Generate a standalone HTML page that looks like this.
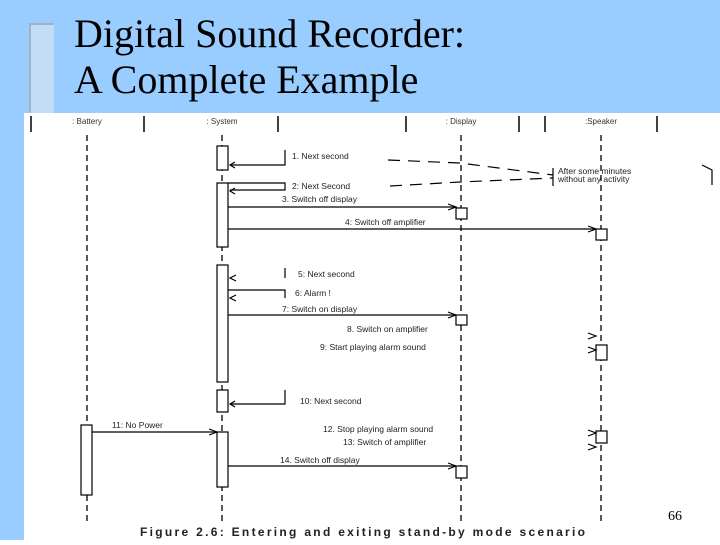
<!DOCTYPE html>
<html><head><style>
body{margin:0;width:720px;height:540px;overflow:hidden;background:#fff}
</style></head><body>
<svg width="720" height="540" xmlns="http://www.w3.org/2000/svg" font-family="Liberation Sans, sans-serif">
<rect x="0" y="0" width="720" height="540" fill="#fff"/>
<rect x="0" y="0" width="720" height="113" fill="#99ccff"/>
<rect x="0" y="0" width="24" height="540" fill="#99ccff"/>
<rect x="30" y="24" width="24" height="89" fill="#c2dcf4"/>
<path d="M30 113 V24 H54" fill="none" stroke="#9fb3c8" stroke-width="2"/>
<text x="74" y="47" font-family="Liberation Serif, serif" font-size="40" fill="#000">Digital Sound Recorder:</text>
<text x="74" y="93" font-family="Liberation Serif, serif" font-size="40" fill="#000">A Complete Example</text>
<g stroke="#000" stroke-width="1.5">
<line x1="31" y1="116" x2="31" y2="132"/><line x1="144" y1="116" x2="144" y2="132"/>
<line x1="278" y1="116" x2="278" y2="132"/><line x1="406" y1="116" x2="406" y2="132"/>
<line x1="519" y1="116" x2="519" y2="132"/><line x1="545" y1="116" x2="545" y2="132"/>
<line x1="657" y1="116" x2="657" y2="132"/>
</g>
<g font-size="8" fill="#333" text-anchor="middle">
<text x="87" y="124">: Battery</text><text x="222" y="124">: System</text>
<text x="461" y="124">: Display</text><text x="601" y="124">:Speaker</text>
</g>
<g stroke="#000" stroke-width="1.3" stroke-dasharray="6,4">
<line x1="87" y1="135" x2="87" y2="525"/><line x1="222" y1="135" x2="222" y2="525"/>
<line x1="461" y1="135" x2="461" y2="525"/><line x1="601" y1="135" x2="601" y2="525"/>
</g>
<g fill="#fff" stroke="#000" stroke-width="1.2">
<rect x="217" y="146" width="11" height="24"/><rect x="217" y="183" width="11" height="64"/>
<rect x="217" y="265" width="11" height="117"/><rect x="217" y="390" width="11" height="22"/>
<rect x="217" y="432" width="11" height="55"/><rect x="81" y="425" width="11" height="70"/>
<rect x="456" y="208" width="11" height="11"/><rect x="456" y="315" width="11" height="10"/>
<rect x="456" y="466" width="11" height="12"/>
<rect x="596" y="229" width="11" height="11"/><rect x="596" y="345" width="11" height="15"/>
<rect x="596" y="431" width="11" height="12"/>
</g>
<g stroke="#000" stroke-width="1.2" fill="none">
<path d="M285 150 V165 H230"/><path d="M235 162 L230 165 L235 168"/>
<path d="M228 183 H285 V190 H230"/><path d="M235 188 L230 191 L235 194"/>
<line x1="228" y1="207" x2="456" y2="207"/><path d="M448 204 L456 207 L448 210"/>
<line x1="228" y1="229" x2="596" y2="229"/><path d="M588 226 L596 229 L588 232"/>
<path d="M285 268 V278"/><path d="M236 275 L230 278 L236 281"/>
<path d="M228 290 H285 V298"/><path d="M236 295 L230 298 L236 301"/>
<line x1="228" y1="315" x2="456" y2="315"/><path d="M448 312 L456 315 L448 318"/>
<path d="M588 333 L596 336 L588 339"/><path d="M588 347 L596 350 L588 353"/>
<path d="M285 390 V404 H230"/><path d="M235 401 L230 404 L235 407"/>
<line x1="92" y1="432" x2="217" y2="432"/><path d="M209 429 L217 432 L209 435"/>
<path d="M588 430 L596 433 L588 436"/><path d="M588 444 L596 447 L588 450"/>
<line x1="228" y1="466" x2="456" y2="466"/><path d="M448 463 L456 466 L448 469"/>
<path d="M553 168 V186"/><path d="M702 165 L712 170 V185"/>
</g>
<g stroke="#000" stroke-width="1.2" stroke-dasharray="12,8" fill="none">
<path d="M388 160 L460 163 L553 175"/>
<path d="M390 186 L460 182 L553 178"/>
</g>
<g font-size="8.5" fill="#222">
<text x="292" y="159">1. Next second</text>
<text x="292" y="189">2: Next Second</text>
<text x="282" y="202">3. Switch off display</text>
<text x="345" y="225">4: Switch off amplifier</text>
<text x="558" y="174">After some minutes</text>
<text x="558" y="182">without any activity</text>
<text x="298" y="277">5: Next second</text>
<text x="295" y="296">6: Alarm !</text>
<text x="282" y="312">7: Switch on display</text>
<text x="347" y="332">8. Switch on amplifier</text>
<text x="320" y="350">9: Start playing alarm sound</text>
<text x="300" y="404">10: Next second</text>
<text x="112" y="428">11: No Power</text>
<text x="323" y="432">12. Stop playing alarm sound</text>
<text x="343" y="445">13: Switch of amplifier</text>
<text x="280" y="463">14. Switch off display</text>
</g>
<text x="140" y="536" font-family="Liberation Sans, sans-serif" font-weight="bold" font-size="12" fill="#222" textLength="445">Figure 2.6: Entering and exiting stand-by mode scenario</text>
<text x="668" y="520" font-family="Liberation Serif, serif" font-size="14" fill="#000">66</text>
</svg>
</body></html>
